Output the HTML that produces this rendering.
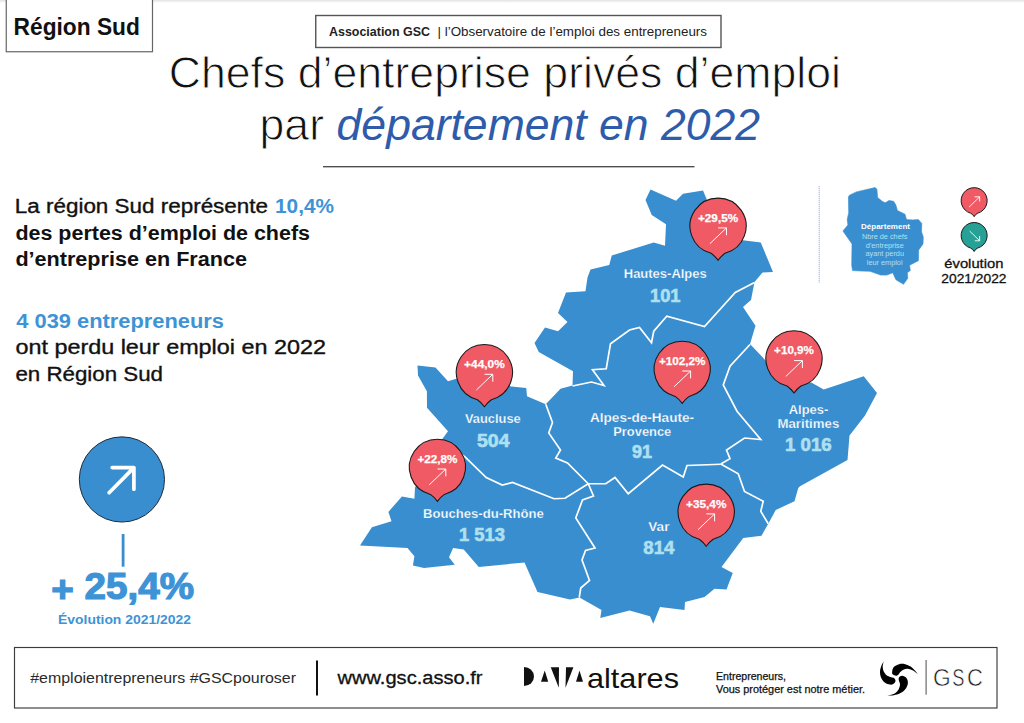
<!DOCTYPE html>
<html lang="fr"><head><meta charset="utf-8"><title>Chefs d’entreprise privés d’emploi par département en 2022 – Région Sud</title>
<style>
html,body{margin:0;padding:0;background:#fff;}
body{width:1024px;height:723px;overflow:hidden;font-family:"Liberation Sans",sans-serif;}
svg{display:block;font-family:"Liberation Sans",sans-serif;}
text{white-space:pre;}
</style></head><body>
<svg width="1024" height="723" viewBox="0 0 1024 723">
<defs><linearGradient id="tg" x1="0" y1="0" x2="0" y2="1"><stop offset="0" stop-color="#e2e2e2"/><stop offset="1" stop-color="#fff"/></linearGradient></defs><rect x="0" y="0" width="1024" height="3" fill="url(#tg)"/>
<rect x="6.25" y="-5" width="146.25" height="56.75" fill="#fff" stroke="#666" stroke-width="1.2"/>
<text x="13.6" y="34.5" font-size="24.7" font-weight="bold" fill="#111" text-anchor="start" textLength="126.3" lengthAdjust="spacingAndGlyphs">Région Sud</text>
<rect x="315.75" y="15.5" width="405.25" height="32" fill="#fff" stroke="#555" stroke-width="1.4"/>
<text x="329" y="35.75" font-size="13.1" font-weight="bold" fill="#222" text-anchor="start" textLength="101" lengthAdjust="spacingAndGlyphs">Association GSC</text>
<text x="437.5" y="35.75" font-size="13.1" font-weight="normal" fill="#222" text-anchor="start" textLength="269.5" lengthAdjust="spacingAndGlyphs">| l’Observatoire de l’emploi des entrepreneurs</text>
<text x="168.7" y="88.2" font-size="44.5" font-weight="normal" fill="#111" text-anchor="start" textLength="672.3" lengthAdjust="spacingAndGlyphs" stroke="#fff" stroke-width="0.9" paint-order="fill stroke">Chefs d’entreprise privés d’emploi</text>
<text x="259.6" y="140" font-size="44.5" font-weight="normal" fill="#111" text-anchor="start" textLength="64.4" lengthAdjust="spacingAndGlyphs" stroke="#fff" stroke-width="0.9" paint-order="fill stroke">par</text>
<text x="336.6" y="140" font-size="44.5" font-weight="normal" fill="#2F5BAB" text-anchor="start" textLength="423.4" lengthAdjust="spacingAndGlyphs" font-style="italic">département en 2022</text>
<rect x="323" y="166.2" width="371.5" height="1.1" fill="#222"/>
<text x="14.8" y="213.25" font-size="20" font-weight="normal" fill="#111" text-anchor="start" textLength="253.2" lengthAdjust="spacingAndGlyphs" stroke="#111" stroke-width="0.35">La région Sud représente</text>
<text x="275" y="213.25" font-size="20" font-weight="bold" fill="#3D93D6" text-anchor="start" textLength="59" lengthAdjust="spacingAndGlyphs">10,4%</text>
<text x="15.4" y="239.5" font-size="20" font-weight="bold" fill="#111" text-anchor="start" textLength="294.6" lengthAdjust="spacingAndGlyphs">des pertes d’emploi de chefs</text>
<text x="15.4" y="265.5" font-size="20" font-weight="bold" fill="#111" text-anchor="start" textLength="231.6" lengthAdjust="spacingAndGlyphs">d’entreprise en France</text>
<text x="16.25" y="327.5" font-size="20" font-weight="bold" fill="#3D93D6" text-anchor="start" textLength="207.75" lengthAdjust="spacingAndGlyphs">4 039 entrepreneurs</text>
<text x="15.4" y="354.25" font-size="20" font-weight="normal" fill="#111" text-anchor="start" textLength="310.6" lengthAdjust="spacingAndGlyphs" stroke="#111" stroke-width="0.35">ont perdu leur emploi en 2022</text>
<text x="15.4" y="380.5" font-size="20" font-weight="normal" fill="#111" text-anchor="start" textLength="147.6" lengthAdjust="spacingAndGlyphs" stroke="#111" stroke-width="0.35">en Région Sud</text>
<circle cx="121.9" cy="479.45" r="42.6" fill="#398ED0" stroke="#1d2a3a" stroke-width="1"/>
<path d="M112.2,467.6 H133.9 V489.2 M133.9,467.6 L109.1,492.7" fill="none" stroke="#fff" stroke-width="3.7" stroke-linecap="round" stroke-linejoin="round"/>
<rect x="121.7" y="534" width="2.8" height="32.7" fill="#398ED0"/>
<text x="51.2" y="599.2" font-size="36.3" font-weight="bold" fill="#3D93D6" text-anchor="start" textLength="142.8" lengthAdjust="spacingAndGlyphs" stroke="#3D93D6" stroke-width="1.2"><tspan dy="3.2">+</tspan><tspan dy="-3.2"> 25,4%</tspan></text>
<text x="58" y="624" font-size="13" font-weight="bold" fill="#3D93D6" text-anchor="start" textLength="133" lengthAdjust="spacingAndGlyphs">Évolution 2021/2022</text>
<polygon points="650.5,189.5 676,200.75 683,193.75 703,190.5 707,200 715,222 741,240 760.75,242.5 773,272 762.5,272.5 754.5,282 751,300 743,307 755.5,325.75 750,344 766.25,361.25 790,380 811.25,382.5 823.75,389.5 863.75,376.25 877,393 865,415.5 849.5,435.5 847.5,460 800,486.25 798.25,488 794.5,501.25 775.75,510 768.25,523.75 761.5,535.75 743.25,538 721.5,567 732.75,573 726.5,589.5 714.5,588.75 704.5,597 685,602 684.5,610 660,607 653.25,623.75 650,616.25 629.5,610.5 600.25,618 601.5,610 579.5,597.5 570,599.5 537.5,592 524.5,562.5 478.75,567 463.75,549.5 453.1,548.1 449,557.25 454.75,564.75 424,568.1 412.9,565.6 414.4,556.25 407.5,547.9 360,545.6 371.9,527.25 391.5,521.25 388.4,511.9 401.9,496.5 414.4,498.75 415,487.5 430,460 442.5,438.75 448,431.25 427,407.8 426.9,391.3 418,375.5 417.5,365.5 435.5,367.5 448,381.25 456.25,378.75 485,380 511.25,386.5 526.25,388 527,396.25 545.75,404.25 560.5,388.75 572.5,385.5 573,371.25 538.75,352 534.5,343 545,327.5 558,331.25 567.5,322 558,313 566,292.5 585.5,291.25 587.5,277.5 590.5,269.5 609.25,265 611.75,255.5 653.75,242.5 665,245.75 666,224.25 651.75,215 645.5,200" fill="#398ED0"/>
<polyline points="572.5,386 591.5,382 604,385.5 592.5,369.75 606.25,368.75 610.5,343.75 629.5,330 639.5,327.5 651.5,342.75 653.75,331.25 666.75,316.25 704.5,326.5 735.25,292.5 754.5,282.5" fill="none" stroke="#fff" stroke-width="1.7" stroke-linejoin="miter"/>
<polyline points="750,344.5 730,366.25 723.25,385 737,411.25 760.75,439.5 744.5,438 726.5,450 730,458.75 720.75,464" fill="none" stroke="#fff" stroke-width="1.7" stroke-linejoin="miter"/>
<polyline points="588.25,483.75 605.75,483.75 615,477.5 628.25,493.75 662.5,465 683.25,477 687,465.5 720.75,464.25" fill="none" stroke="#fff" stroke-width="1.7" stroke-linejoin="miter"/>
<polyline points="545.75,404.25 552.5,422.5 548.75,433 560.5,450 555.75,458 567.5,463 588.25,483.75" fill="none" stroke="#fff" stroke-width="1.7" stroke-linejoin="miter"/>
<polyline points="455,450 465,457 486.25,477.5 502.25,485 512.5,482.5 554,498.75 565,498.25 588.25,483.75" fill="none" stroke="#fff" stroke-width="1.7" stroke-linejoin="miter"/>
<polyline points="588.25,483.75 593.5,496 582.5,500 575.75,518 595,548 585.5,550.5 582,560 589.5,580.5 580.75,588 579.25,597.5" fill="none" stroke="#fff" stroke-width="1.7" stroke-linejoin="miter"/>
<polyline points="720.75,464 738.25,473.75 744.5,491.5 763.25,501.25 760.75,511.25 768.25,523.75" fill="none" stroke="#fff" stroke-width="1.7" stroke-linejoin="miter"/>
<text x="623.75" y="278.25" font-size="13.6" font-weight="bold" fill="#fff" text-anchor="start" textLength="83.0" lengthAdjust="spacingAndGlyphs" stroke="#398ED0" stroke-width="0.25" paint-order="fill stroke">Hautes-Alpes</text>
<text x="650" y="302" font-size="18.5" font-weight="bold" fill="#AFE0F0" text-anchor="start" textLength="30.5" lengthAdjust="spacingAndGlyphs" stroke="#AFE0F0" stroke-width="0.6">101</text>
<text x="465" y="423" font-size="13.6" font-weight="bold" fill="#fff" text-anchor="start" textLength="55.75" lengthAdjust="spacingAndGlyphs" stroke="#398ED0" stroke-width="0.25" paint-order="fill stroke">Vaucluse</text>
<text x="477" y="447" font-size="18.5" font-weight="bold" fill="#AFE0F0" text-anchor="start" textLength="32.5" lengthAdjust="spacingAndGlyphs" stroke="#AFE0F0" stroke-width="0.6">504</text>
<text x="590" y="422" font-size="13.6" font-weight="bold" fill="#fff" text-anchor="start" textLength="104" lengthAdjust="spacingAndGlyphs" stroke="#398ED0" stroke-width="0.25" paint-order="fill stroke">Alpes-de-Haute-</text>
<text x="613.25" y="435.5" font-size="13.6" font-weight="bold" fill="#fff" text-anchor="start" textLength="58.0" lengthAdjust="spacingAndGlyphs" stroke="#398ED0" stroke-width="0.25" paint-order="fill stroke">Provence</text>
<text x="632" y="458.25" font-size="18.5" font-weight="bold" fill="#AFE0F0" text-anchor="start" textLength="20" lengthAdjust="spacingAndGlyphs" stroke="#AFE0F0" stroke-width="0.6">91</text>
<text x="788.75" y="413.75" font-size="13.6" font-weight="bold" fill="#fff" text-anchor="start" textLength="39.5" lengthAdjust="spacingAndGlyphs" stroke="#398ED0" stroke-width="0.25" paint-order="fill stroke">Alpes-</text>
<text x="777.5" y="428" font-size="13.6" font-weight="bold" fill="#fff" text-anchor="start" textLength="61.75" lengthAdjust="spacingAndGlyphs" stroke="#398ED0" stroke-width="0.25" paint-order="fill stroke">Maritimes</text>
<text x="785" y="450.5" font-size="18.5" font-weight="bold" fill="#AFE0F0" text-anchor="start" textLength="46.75" lengthAdjust="spacingAndGlyphs" stroke="#AFE0F0" stroke-width="0.6">1 016</text>
<text x="423" y="518.25" font-size="13.6" font-weight="bold" fill="#fff" text-anchor="start" textLength="120.75" lengthAdjust="spacingAndGlyphs" stroke="#398ED0" stroke-width="0.25" paint-order="fill stroke">Bouches-du-Rhône</text>
<text x="459" y="540.75" font-size="18.5" font-weight="bold" fill="#AFE0F0" text-anchor="start" textLength="46" lengthAdjust="spacingAndGlyphs" stroke="#AFE0F0" stroke-width="0.6">1 513</text>
<text x="648.25" y="531.25" font-size="13.6" font-weight="bold" fill="#fff" text-anchor="start" textLength="21.25" lengthAdjust="spacingAndGlyphs" stroke="#398ED0" stroke-width="0.25" paint-order="fill stroke">Var</text>
<text x="643.25" y="553.75" font-size="18.5" font-weight="bold" fill="#AFE0F0" text-anchor="start" textLength="31.25" lengthAdjust="spacingAndGlyphs" stroke="#AFE0F0" stroke-width="0.6">814</text>
<g transform="translate(718.05,226.1)">
<path d="M -7,27.2 A 28.05 28.05 0 1 1 7,27.2 Q 3.2,29.8 0,34.2 Q -3.2,29.8 -7,27.2 Z" fill="#EF5A65" stroke="#1a1a1a" stroke-width="1.08"/>
<path d="M-8.15,17.6 L8.4,1.8 M0.1,1.8 H8.4 V9.2" fill="none" stroke="#fff" stroke-width="1"/>
<text x="-20.1" y="-4.6" font-size="11.6" font-weight="bold" fill="#fff" text-anchor="start" textLength="40.2" lengthAdjust="spacingAndGlyphs" stroke="#fff" stroke-width="0.25">+29,5%</text>
</g>
<g transform="translate(484.4,372.5)">
<path d="M -7,27.2 A 28.05 28.05 0 1 1 7,27.2 Q 3.2,29.8 0,34.2 Q -3.2,29.8 -7,27.2 Z" fill="#EF5A65" stroke="#1a1a1a" stroke-width="1.08"/>
<path d="M-8.15,17.6 L8.4,1.8 M0.1,1.8 H8.4 V9.2" fill="none" stroke="#fff" stroke-width="1"/>
<text x="-20.3" y="-4.6" font-size="11.6" font-weight="bold" fill="#fff" text-anchor="start" textLength="40.6" lengthAdjust="spacingAndGlyphs" stroke="#fff" stroke-width="0.25">+44,0%</text>
</g>
<g transform="translate(682.2,369.2)">
<path d="M -7,27.2 A 28.05 28.05 0 1 1 7,27.2 Q 3.2,29.8 0,34.2 Q -3.2,29.8 -7,27.2 Z" fill="#EF5A65" stroke="#1a1a1a" stroke-width="1.08"/>
<path d="M-8.15,17.6 L8.4,1.8 M0.1,1.8 H8.4 V9.2" fill="none" stroke="#fff" stroke-width="1"/>
<text x="-23.25" y="-4.6" font-size="11.6" font-weight="bold" fill="#fff" text-anchor="start" textLength="46.5" lengthAdjust="spacingAndGlyphs" stroke="#fff" stroke-width="0.25">+102,2%</text>
</g>
<g transform="translate(794.0,358.8)">
<path d="M -7,27.2 A 28.05 28.05 0 1 1 7,27.2 Q 3.2,29.8 0,34.2 Q -3.2,29.8 -7,27.2 Z" fill="#EF5A65" stroke="#1a1a1a" stroke-width="1.08"/>
<path d="M-8.15,17.6 L8.4,1.8 M0.1,1.8 H8.4 V9.2" fill="none" stroke="#fff" stroke-width="1"/>
<text x="-19.9" y="-4.6" font-size="11.6" font-weight="bold" fill="#fff" text-anchor="start" textLength="39.8" lengthAdjust="spacingAndGlyphs" stroke="#fff" stroke-width="0.25">+10,9%</text>
</g>
<g transform="translate(437.4,467.2)">
<path d="M -7,27.2 A 28.05 28.05 0 1 1 7,27.2 Q 3.2,29.8 0,34.2 Q -3.2,29.8 -7,27.2 Z" fill="#EF5A65" stroke="#1a1a1a" stroke-width="1.08"/>
<path d="M-8.15,17.6 L8.4,1.8 M0.1,1.8 H8.4 V9.2" fill="none" stroke="#fff" stroke-width="1"/>
<text x="-20.0" y="-4.6" font-size="11.6" font-weight="bold" fill="#fff" text-anchor="start" textLength="40" lengthAdjust="spacingAndGlyphs" stroke="#fff" stroke-width="0.25">+22,8%</text>
</g>
<g transform="translate(706.2,512.1)">
<path d="M -7,27.2 A 28.05 28.05 0 1 1 7,27.2 Q 3.2,29.8 0,34.2 Q -3.2,29.8 -7,27.2 Z" fill="#EF5A65" stroke="#1a1a1a" stroke-width="1.08"/>
<path d="M-8.15,17.6 L8.4,1.8 M0.1,1.8 H8.4 V9.2" fill="none" stroke="#fff" stroke-width="1"/>
<text x="-20.2" y="-4.6" font-size="11.6" font-weight="bold" fill="#fff" text-anchor="start" textLength="40.4" lengthAdjust="spacingAndGlyphs" stroke="#fff" stroke-width="0.25">+35,4%</text>
</g>
<line x1="819.2" y1="186.3" x2="819.2" y2="282.7" stroke="#8fa2dc" stroke-width="1.1" stroke-dasharray="1 1"/>
<polygon points="849.5,195.2 856.3,191.9 874.9,187.6 876.9,189.1 877.6,197.5 882.2,201.3 885.2,202.8 889,200.5 893.6,201.3 895.9,205.1 897.4,210.4 905,214.2 906.5,219.6 912.6,219.9 918.4,219.6 921.8,223.4 921.5,231.8 923.3,237.1 923,243.9 918.7,250 918.4,260.7 909.6,265.2 910.3,270.6 907.3,272.8 907.8,278.2 903.5,284.3 895.9,279.7 892.8,272.8 886.8,275.1 880.7,275.1 870,271.3 860.9,271 852.5,270.6 851.7,265.2 852,243.9 842.9,231 847.9,224.9 847.2,219.6 848.7,212.7 848.4,196.7" fill="#398ED0" stroke="#398ED0" stroke-width="0.6" stroke-linejoin="round"/>
<text x="885.5" y="228.7" font-size="8" font-weight="bold" fill="#fff" text-anchor="middle">Département</text>
<text x="884.7" y="239.1" font-size="7.3" font-weight="normal" fill="#AFE0F0" text-anchor="middle">Nbre de chefs</text>
<text x="884.7" y="247.6" font-size="7.3" font-weight="normal" fill="#AFE0F0" text-anchor="middle">d’entreprise</text>
<text x="884.7" y="256.1" font-size="7.3" font-weight="normal" fill="#AFE0F0" text-anchor="middle">ayant perdu</text>
<text x="884.7" y="264.6" font-size="7.3" font-weight="normal" fill="#AFE0F0" text-anchor="middle">leur emploi</text>
<g transform="translate(974.15,200.65)"><path d="M -3.6,12.5 A 13 13 0 1 1 3.6,12.5 Q 1.2,13.6 0,16 Q -1.2,13.6 -3.6,12.5 Z" fill="#EF5A65" stroke="#1a1a1a" stroke-width="1"/><path d="M-5.1,6.45 L5.5,-3.85 M0.4,-3.85 H5.5 V0.9" fill="none" stroke="#fff" stroke-width="0.9"/></g>
<g transform="translate(974.15,235.5)"><path d="M -3.6,12.5 A 13 13 0 1 1 3.6,12.5 Q 1.2,13.6 0,16 Q -1.2,13.6 -3.6,12.5 Z" fill="#27A096" stroke="#1a1a1a" stroke-width="1"/><path d="M-4.45,-4.4 L5.5,5.3 M0.7,5.3 H5.5 V0.4" fill="none" stroke="#fff" stroke-width="0.9"/></g>
<text x="944.3" y="268.3" font-size="13.3" font-weight="normal" fill="#111" text-anchor="start" textLength="59.1" lengthAdjust="spacingAndGlyphs" stroke="#111" stroke-width="0.3">évolution</text>
<text x="941.3" y="283.3" font-size="13.3" font-weight="normal" fill="#111" text-anchor="start" textLength="65.2" lengthAdjust="spacingAndGlyphs" stroke="#111" stroke-width="0.3">2021/2022</text>
<rect x="14.5" y="647.5" width="982.5" height="60.5" fill="#fff" stroke="#3c3c3c" stroke-width="1.15"/>
<text x="30.25" y="682.7" font-size="15" font-weight="normal" fill="#2a2a2a" text-anchor="start" textLength="265.75" lengthAdjust="spacingAndGlyphs">#emploientrepreneurs #GSCpouroser</text>
<rect x="316" y="660.5" width="2" height="35" fill="#111"/>
<text x="337.5" y="684" font-size="18" font-weight="normal" fill="#111" text-anchor="start" textLength="145.0" lengthAdjust="spacingAndGlyphs" stroke="#111" stroke-width="0.3">www.gsc.asso.fr</text>
<path d="M524,667 A10,9.5 0 0 1 524,686 Z" fill="#111"/>
<polygon points="544.75,670.5 541,681.8 548.2,681.8" fill="#111"/>
<polygon points="550.75,667.2 559,667.2 558.8,687.7" fill="#111"/>
<polygon points="566,667.2 573.4,667.2 565.5,687.7" fill="#111"/>
<polygon points="579.5,670.5 576,681.8 583,681.8" fill="#111"/>
<text x="587" y="688" font-size="28.3" font-weight="normal" fill="#111" text-anchor="start" textLength="92" lengthAdjust="spacingAndGlyphs">altares</text>
<text x="716" y="680.2" font-size="10.4" font-weight="normal" fill="#111" text-anchor="start" textLength="70" lengthAdjust="spacingAndGlyphs" stroke="#111" stroke-width="0.25">Entrepreneurs,</text>
<text x="716" y="692.5" font-size="10.4" font-weight="normal" fill="#111" text-anchor="start" textLength="149" lengthAdjust="spacingAndGlyphs" stroke="#111" stroke-width="0.25">Vous protéger est notre métier.</text>
<path d="M892.10,672.40 C892.20,671.18 892.43,668.67 893.60,667.30 C894.77,665.93 897.17,664.72 899.10,664.20 C901.03,663.68 903.27,663.80 905.20,664.20 C907.13,664.60 909.08,665.53 910.70,666.60 C912.32,667.67 913.73,669.38 914.90,670.60 C916.07,671.82 917.23,673.35 917.70,673.90 C918.17,674.45 918.57,674.50 917.70,673.90 C916.83,673.30 914.18,671.15 912.50,670.30 C910.82,669.45 909.12,668.90 907.60,668.80 C906.08,668.70 904.62,669.15 903.40,669.70 C902.18,670.25 901.07,671.35 900.30,672.10 C899.53,672.85 899.50,673.58 898.80,674.20 C898.10,674.82 897.07,675.73 896.10,675.80 C895.13,675.87 893.67,675.17 893.00,674.60 C892.33,674.03 892.00,673.62 892.10,672.40 Z" fill="#000"/>
<path d="M884.20,660.60 C884.35,660.25 884.70,659.65 884.20,660.60 C883.70,661.55 881.90,664.33 881.20,666.30 C880.50,668.27 879.95,670.37 880.00,672.40 C880.05,674.43 880.65,676.77 881.50,678.50 C882.35,680.23 883.68,681.78 885.10,682.80 C886.52,683.82 888.58,684.45 890.00,684.60 C891.42,684.75 892.68,684.32 893.60,683.70 C894.52,683.08 895.40,681.82 895.50,680.90 C895.60,679.98 894.92,678.80 894.20,678.20 C893.48,677.60 892.42,677.75 891.20,677.30 C889.98,676.85 888.12,676.42 886.90,675.50 C885.68,674.58 884.60,673.23 883.90,671.80 C883.20,670.37 882.80,668.42 882.70,666.90 C882.60,665.38 883.05,663.75 883.30,662.70 C883.55,661.65 884.05,660.95 884.20,660.60 Z" fill="#000"/>
<path d="M902.20,675.80 C903.42,675.90 905.45,676.83 906.40,677.90 C907.35,678.97 907.85,680.68 907.90,682.20 C907.95,683.72 907.45,685.48 906.70,687.00 C905.95,688.52 904.77,690.13 903.40,691.30 C902.03,692.47 900.33,693.32 898.50,694.00 C896.67,694.68 894.27,695.15 892.40,695.40 C890.53,695.65 888.15,695.48 887.30,695.50 C886.45,695.52 886.25,695.75 887.30,695.50 C888.35,695.25 891.93,694.70 893.60,694.00 C895.27,693.30 896.33,692.37 897.30,691.30 C898.27,690.23 898.95,688.82 899.40,687.60 C899.85,686.38 900.10,685.22 900.00,684.00 C899.90,682.78 898.95,681.42 898.80,680.30 C898.65,679.18 898.53,678.05 899.10,677.30 C899.67,676.55 900.98,675.70 902.20,675.80 Z" fill="#000"/>
<rect x="925.6" y="660" width="0.95" height="34.7" fill="#444"/>
<text x="933.0" y="685.5" font-size="23.5" font-weight="normal" fill="#1a1a1a" text-anchor="start" textLength="17.7" lengthAdjust="spacingAndGlyphs" stroke="#fff" stroke-width="0.55" paint-order="fill stroke">G</text>
<text x="952.2" y="685.5" font-size="23.5" font-weight="normal" fill="#1a1a1a" text-anchor="start" textLength="12.2" lengthAdjust="spacingAndGlyphs" stroke="#fff" stroke-width="0.55" paint-order="fill stroke">S</text>
<text x="966.9" y="685.5" font-size="23.5" font-weight="normal" fill="#1a1a1a" text-anchor="start" textLength="15.9" lengthAdjust="spacingAndGlyphs" stroke="#fff" stroke-width="0.55" paint-order="fill stroke">C</text>
</svg>
</body></html>
